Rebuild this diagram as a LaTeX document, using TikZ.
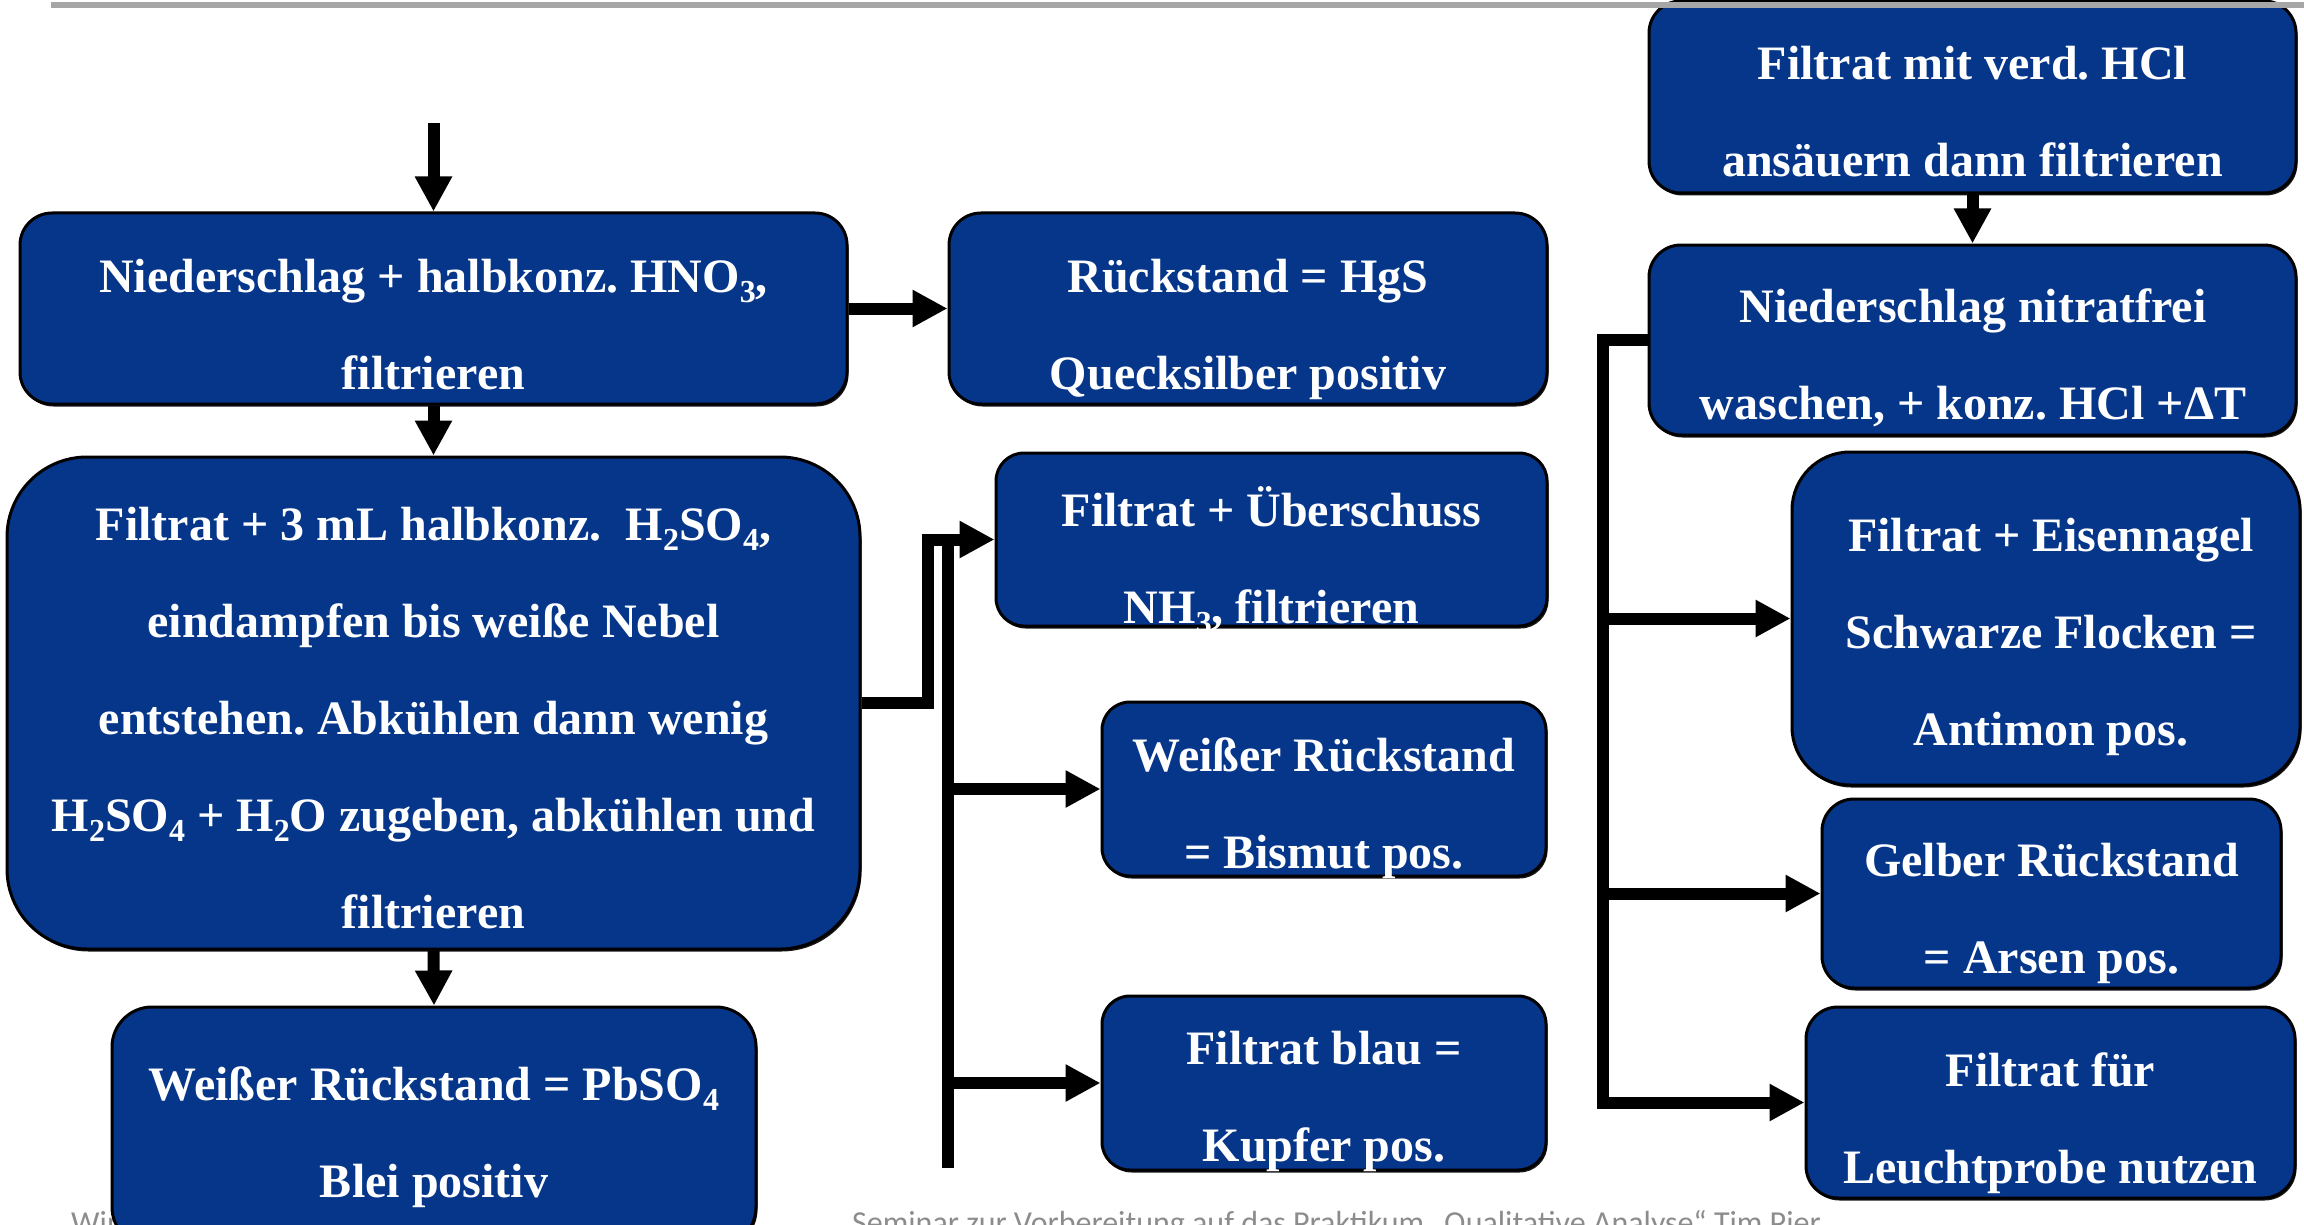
\documentclass[tikz,border=0pt]{standalone}
\usepackage{fontspec}
\setmainfont{Liberation Serif}
\newfontfamily\footfont{Carlito}
\usetikzlibrary{arrows.meta,shadows}
\definecolor{boxblue}{RGB}{6,54,138}
\definecolor{rulegray}{RGB}{166,166,166}
\definecolor{footgray}{RGB}{140,140,140}
% chemical subscript in the box font
\newcommand\chemsub[1]{\raisebox{-0.22em}{\fontsize{32}{32}\selectfont #1}}

\begin{document}
\begin{tikzpicture}[x=1pt,y=-1pt,
  stepbox/.style={draw=black, line width=3pt, fill=boxblue, inner sep=0pt,
    drop shadow={shadow xshift=1.5pt, shadow yshift=-2.5pt, fill=black, opacity=0.9}},
  boxtext/.style={text=white, font=\bfseries\fontsize{48}{97}\selectfont\frenchspacing,
    align=flush center, text width=900pt, anchor=base, inner sep=0pt},
  conn/.style={line width=12pt, -{Triangle[length=35pt,width=35pt]}},
  trunk/.style={line width=12pt},
  foot/.style={text=footgray, font=\footfont\fontsize{32}{38}\selectfont,
    anchor=base west, inner sep=0pt},
]
\useasboundingbox (0,0) rectangle (2304,1225);
\clip (0,0) rectangle (2304,1225);

% footer line (partly hidden behind the boxes)
\node[foot] (ft1) at (71,1233) {Win};
\node[foot] (ft2) at (852,1233) {Seminar zur Vorbereitung auf das Praktikum „Qualitative Analyse“ Tim Pier};

% left column
\node[stepbox, rounded corners=32pt, minimum width=827pt, minimum height=191pt] (A) at (433.5,308.5) {};
\node[stepbox, rounded corners=32pt, minimum width=598pt, minimum height=191pt] (R) at (1248,308.5) {};
\node[stepbox, rounded corners=80pt, minimum width=853pt, minimum height=492pt] (B) at (433.5,703) {};
\node[stepbox, rounded corners=40pt, minimum width=644pt, minimum height=240pt] (C) at (434,1127) {};

% middle column
\node[stepbox, rounded corners=28pt, minimum width=551pt, minimum height=173pt] (D) at (1271.5,539.5) {};
\node[stepbox, rounded corners=28pt, minimum width=444pt, minimum height=174pt] (E) at (1324,789) {};
\node[stepbox, rounded corners=28pt, minimum width=444pt, minimum height=174pt] (F) at (1324,1083) {};

% right column
\node[stepbox, rounded corners=32pt, minimum width=647pt, minimum height=192pt] (G) at (1972.5,97) {};
\node[stepbox, rounded corners=32pt, minimum width=647pt, minimum height=190pt] (H) at (1972.5,340) {};
\node[stepbox, rounded corners=58pt, minimum width=508pt, minimum height=333pt] (I) at (2046,618.5) {};
\node[stepbox, rounded corners=32pt, minimum width=459pt, minimum height=189pt] (J) at (2051.5,893.5) {};
\node[stepbox, rounded corners=32pt, minimum width=489pt, minimum height=191pt] (K) at (2050.5,1102.5) {};

% box texts
\node[boxtext] (At) at (433.5,292) {Niederschlag + halbkonz. HNO\chemsub{3},\\filtrieren};
\node[boxtext] (Rt) at (1248,292) {Rückstand = HgS\\Quecksilber positiv};
\node[boxtext] (Bt) at (433.5,540) {Filtrat + 3 mL halbkonz.\ \ H\chemsub{2}SO\chemsub{4},\\eindampfen bis weiße Nebel\\entstehen. Abkühlen dann wenig\\H\chemsub{2}SO\chemsub{4} + H\chemsub{2}O zugeben, abkühlen und\\filtrieren};
\node[boxtext] (Ct) at (434,1100) {Weißer Rückstand = PbSO\chemsub{4}\\Blei positiv};
\node[boxtext] (Dt) at (1271.5,526) {Filtrat + Überschuss\\NH\chemsub{3}, filtrieren};
\node[boxtext] (Et) at (1324,771) {Weißer Rückstand\\= Bismut pos.};
\node[boxtext] (Ft) at (1324,1064) {Filtrat blau =\\Kupfer pos.};
\node[boxtext] (Gt) at (1972.5,80) {Filtrat mit verd. HCl\\ansäuern dann filtrieren};
\node[boxtext] (Ht) at (1973,322) {Niederschlag nitratfrei\\waschen, + konz. HCl +ΔT};
\node[boxtext] (It) at (2051,551) {Filtrat + Eisennagel\\Schwarze Flocken =\\Antimon pos.};
\node[boxtext] (Jt) at (2051.5,876) {Gelber Rückstand\\= Arsen pos.};
\node[boxtext] (Kt) at (2050.5,1086) {Filtrat für\\Leuchtprobe nutzen};

% connectors, left part
\coordinate (in) at (433.5,123);
\draw[conn] (in) -- (A.north);
\draw[conn] (A.east) -- (R.west);
\draw[conn] (A.south) -- (B.north);
\draw[conn] (B.south) -- (C.north);
\coordinate (bj) at (928,539.5);
\draw[conn] (B.east) -| (bj) -- (D.west);
\coordinate (tt) at (948,539.5);
\coordinate (tb) at (948,1168);
\draw[trunk] (tt) -- (tb);
\draw[conn] (tt |- E.west) -- (E.west);
\draw[conn] (tt |- F.west) -- (F.west);

% connectors, right part
\coordinate (gin) at (1972.5,0);
\draw[line width=2pt] (gin) -- (G.north);
\draw[conn] (G.south) -- (H.north);
\coordinate (hj) at (1603,340);
\draw[conn] (H.west) -- (hj) |- (K.west);
\draw[conn] (hj |- I.west) -- (I.west);
\draw[conn] (hj |- J.west) -- (J.west);

% header rule
\coordinate (rl) at (51,5.5);
\coordinate (rr) at (2304,5.5);
\draw[rulegray, line width=6pt] (rl) -- (rr);
\end{tikzpicture}
\end{document}
